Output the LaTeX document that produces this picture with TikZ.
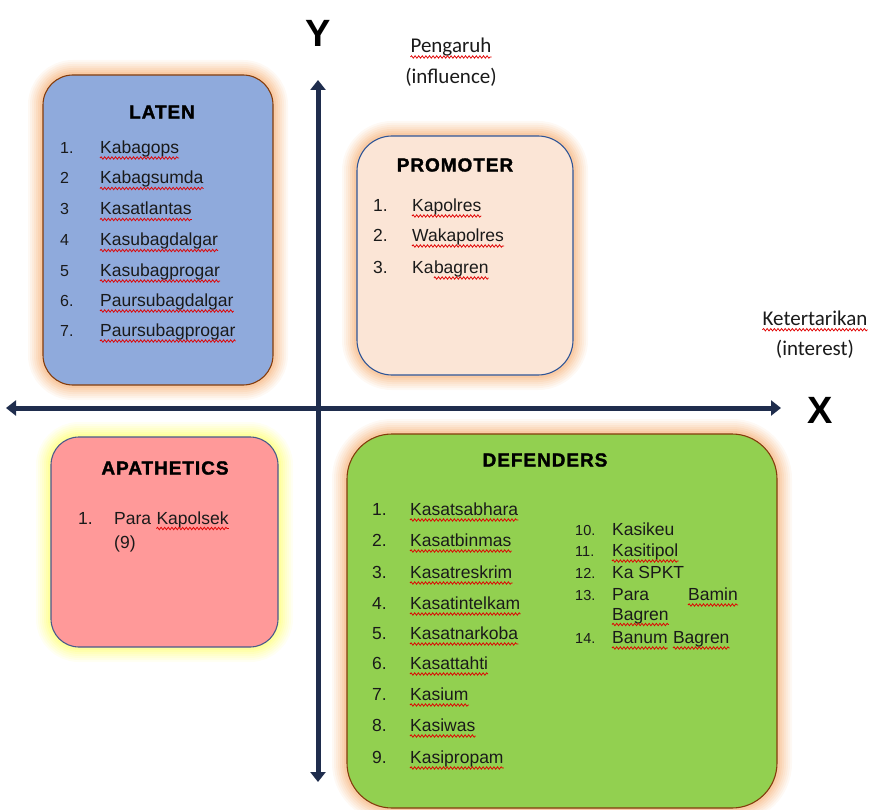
\documentclass[tikz,border=0pt]{standalone}
\usepackage{fontspec}
\setmainfont{Liberation Sans}
\newfontfamily\carlito{Carlito}
\newfontfamily\headfont[LetterSpace=5,FakeBold=1.6]{Liberation Sans Bold}
\usetikzlibrary{arrows.meta,decorations.pathmorphing}
\definecolor{latenfill}{HTML}{8FAADC}
\definecolor{promfill}{HTML}{FBE5D6}
\definecolor{apafill}{HTML}{FF9999}
\definecolor{deffill}{HTML}{92D050}
\definecolor{brownline}{HTML}{843C0C}
\definecolor{blueline}{HTML}{2F5597}
\definecolor{greyblue}{HTML}{4A5A8A}
\definecolor{glowor}{HTML}{F4A460}
\definecolor{glowye}{HTML}{FFFF55}
\definecolor{axiscol}{HTML}{1F2D4D}
\definecolor{wavered}{HTML}{E00000}
\definecolor{txt}{HTML}{1A1A1A}
\newcommand\wv[1]{\draw[wave] ([yshift=-4.5pt]#1.base west) -- ([yshift=-4.5pt]#1.base east);}
\tikzset{
  glow/.style={
    preaction={draw=#1,line width=30pt,opacity=0.07},
    preaction={draw=#1,line width=26pt,opacity=0.08},
    preaction={draw=#1,line width=22pt,opacity=0.09},
    preaction={draw=#1,line width=18pt,opacity=0.10},
    preaction={draw=#1,line width=14pt,opacity=0.12},
    preaction={draw=#1,line width=10pt,opacity=0.14},
    preaction={draw=#1,line width=6pt,opacity=0.18}},
  quad/.style={rectangle,inner sep=0pt,line width=1.1pt},
  item/.style={anchor=base west,inner sep=0pt,text=txt,font=\fontsize{17.5}{20}\selectfont},
  num/.style={anchor=base west,inner sep=0pt,text=txt,font=\fontsize{16}{18}\selectfont},
  snum/.style={anchor=base west,inner sep=0pt,text=txt,font=\fontsize{14.5}{16}\selectfont},
  head/.style={inner sep=0pt,text=black,font=\headfont\fontsize{19}{22}\selectfont},
  carl/.style={inner sep=0pt,text=txt,font=\carlito\fontsize{21}{24}\selectfont},
  axlabel/.style={inner sep=0pt,text=black,font=\bfseries\fontsize{38}{40}\selectfont},
  axis/.style={draw=axiscol,line width=5pt,{Triangle[width=15pt,length=10pt]}-{Triangle[width=15pt,length=10pt]}},
  wave/.style={draw=wavered,line width=0.75pt,decorate,decoration={snake,amplitude=1.2pt,segment length=3.6pt}}
}
\begin{document}
\begin{tikzpicture}[x=1pt,y=-1pt]
\useasboundingbox (0,0) rectangle (875,810);
% boxes
\node[quad,glow=glowor,rounded corners=30pt,fill=latenfill,draw=brownline,minimum width=230pt,minimum height=310pt] (laten) at (158,230) {};
\node[quad,glow=glowor,rounded corners=35pt,fill=promfill,draw=blueline,minimum width=216pt,minimum height=239pt] (prom) at (465,255.5) {};
\node[quad,glow=glowye,rounded corners=28pt,fill=apafill,draw=greyblue,minimum width=227pt,minimum height=210pt] (apa) at (164.5,542) {};
\node[quad,glow=glowor,rounded corners=45pt,fill=deffill,draw=brownline,minimum width=430pt,minimum height=374pt] (def) at (562,621) {};
% axes
\coordinate (ytop) at (318,80);
\coordinate (ybot) at (318,782);
\coordinate (xleft) at (6,408);
\coordinate (xright) at (781,408);
\draw[axis] (ybot) -- (ytop);
\draw[axis] (xleft) -- (xright);
\node[axlabel] (Y) at (318,33) {Y};
\node[axlabel] (X) at (820,410) {X};
\node[carl] (peng) at (451,47) {Pengaruh}; \wv{peng}
\node[carl] (infl) at (451,77) {(influence)};
\node[carl] (ket) at (815,318) {Ketertarikan}; \wv{ket}
\node[carl] (intr) at (815,349) {(interest)};
% LATEN
\node[head] (lath) at (162,112) {LATEN};
\foreach \n/\t/\y [count=\i] in {1./Kabagops/153.5,2/Kabagsumda/184,3/Kasatlantas/215,4/Kasubagdalgar/246,5/Kasubagprogar/276.5,6./Paursubagdalgar/306.5,7./Paursubagprogar/336.5}{
  \node[num] (latn\i) at (60,\y) {\n};
  \node[item] (lati\i) at (100,\y) {\t};
  \wv{lati\i}
}
% PROMOTER
\node[head] (promh) at (455,165) {PROMOTER};
\node[item] (pn1) at (373,211.5) {1.};
\node[item] (pi1) at (412,211.5) {Kapolres}; \wv{pi1}
\node[item] (pn2) at (373,241.5) {2.};
\node[item] (pi2) at (412,241.5) {Wakapolres}; \wv{pi2}
\node[item] (pn3) at (373,273.5) {3.};
\node[item] (pi3) at (412,273.5) {Ka};
\node[item] (pi3b) at (pi3.base east) {bagren}; \wv{pi3b}
% APATHETICS
\node[head] (apah) at (165,468) {APATHETICS};
\node[item] (an1) at (78,524) {1.};
\node[item] (ai1) at (114,524) {Para};
\node[item] (ai1k) at ([xshift=5pt]ai1.base east) {Kapolsek}; \wv{ai1k}
\node[item] (ai1b) at (114,548.5) {(9)};
% DEFENDERS
\node[head] (defh) at (545,460) {DEFENDERS};
\foreach \t/\y [count=\i] in {Kasatsabhara/515.5,Kasatbinmas/546.5,Kasatreskrim/578.5,Kasatintelkam/609.5,Kasatnarkoba/639.5,Kasattahti/669.5,Kasium/700.5,Kasiwas/731.5,Kasipropam/763.5}{
  \node[item] (dn\i) at (372,\y) {\i.};
  \node[item] (di\i) at (410,\y) {\t};
  \wv{di\i}
}
\node[snum] (dn10) at (575,535.5) {10.};
\node[item] (di10) at (612,535.5) {Kasikeu};
\node[snum] (dn11) at (575,556.5) {11.};
\node[item] (di11) at (612,556.5) {Kasitipol}; \wv{di11}
\node[snum] (dn12) at (575,578.5) {12.};
\node[item] (di12) at (612,578.5) {Ka SPKT};
\node[snum] (dn13) at (575,600.5) {13.};
\node[item] (di13) at (612,600.5) {Para};
\node[item] (di13m) at (688,600.5) {Bamin}; \wv{di13m}
\node[item] (di13b) at (612,620) {Bagren}; \wv{di13b}
\node[snum] (dn14) at (575,643.5) {14.};
\node[item] (di14) at (612,643.5) {Banum}; \wv{di14}
\node[item] (di14b) at ([xshift=5pt]di14.base east) {Bagren}; \wv{di14b}
\end{tikzpicture}
\end{document}
